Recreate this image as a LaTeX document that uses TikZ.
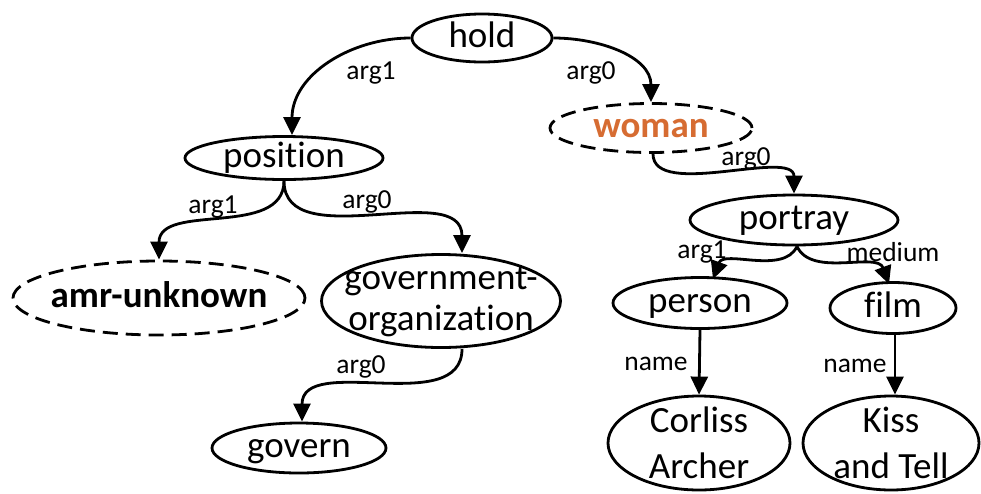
\documentclass[tikz,border=0pt]{standalone}
\usepackage{fontspec}
\setmainfont{Carlito}[RawFeature={-liga;-clig;-dlig}]
\usetikzlibrary{arrows.meta,shapes.geometric}
\definecolor{conceptorange}{RGB}{214,108,50}
\begin{document}
\begin{tikzpicture}[x=1pt,y=-1pt,
  % ellipses take their size from minimum width/height only
  concept/.style={ellipse, draw, line width=2.8pt, inner sep=-60pt,
    font=\fontsize{37}{40}\selectfont, text height=25pt, text depth=7pt},
  twoline/.style={ellipse, draw, line width=2.8pt, inner sep=-60pt, align=center},
  unknown/.style={dash pattern=on 15pt off 8pt},
  rel/.style={line width=2.8pt, -{Triangle[length=18pt,width=17pt]}},
  lab/.style={anchor=base, font=\fontsize{27.5}{30}\selectfont, inner sep=0pt}]
\useasboundingbox (0,0) rectangle (981,493);

% concept nodes
\node[concept, minimum width=140pt, minimum height=48pt] (hold) at (482,38) {hold};
\node[concept, unknown, minimum width=202pt, minimum height=49pt,
      text=conceptorange, font=\fontsize{37}{40}\selectfont\bfseries] (woman) at (651,128) {woman};
\node[concept, minimum width=198pt, minimum height=43pt] (pos) at (284,158) {position};
\node[concept, unknown, minimum width=292pt, minimum height=74pt,
      font=\fontsize{37}{40}\selectfont\bfseries] (amr) at (159,298) {amr-unknown};
\node[twoline, minimum width=239pt, minimum height=93pt,
      font=\fontsize{37}{41}\selectfont] (gov) at (441,301) {government-\\organization};
\node[concept, minimum width=174pt, minimum height=50pt] (govern) at (299,448) {govern};
\node[concept, minimum width=208pt, minimum height=50pt] (portray) at (794,220) {portray};
\node[concept, minimum width=174pt, minimum height=51pt] (person) at (700,303) {person};
\node[concept, minimum width=126pt, minimum height=51pt] (film) at (893,308) {film};
\node[twoline, minimum width=182pt, minimum height=94pt,
      font=\fontsize{37}{46}\selectfont] (corliss) at (699,443) {Corliss\\Archer};
\node[twoline, minimum width=176pt, minimum height=94pt,
      font=\fontsize{37}{46}\selectfont] (kiss) at (891,443) {Kiss\\and Tell};

% relations
\draw[rel] (hold.west) to[out=180, in=90] ([xshift=8pt]pos.north);
\draw[rel] (hold.east) to[out=0, in=90] (woman.north);
\draw[rel] ([xshift=2pt]woman.south) to[out=-90, in=90, looseness=0.8] (portray.north);
\draw[rel] (pos.south) to[out=-90, in=90] (amr.north);
\draw[rel] (pos.south) to[out=-90, in=90] ([xshift=21pt]gov.north);
\draw[rel] ([xshift=21pt]gov.south) to[out=-90, in=90] ([xshift=3pt]govern.north);
\draw[rel] ([xshift=3pt]portray.south) to[out=-115, in=70, looseness=0.9] ([xshift=13pt,yshift=-3pt]person.north);
\draw[rel] ([xshift=3pt]portray.south) to[out=-65, in=110, looseness=0.9] ([xshift=-4pt,yshift=-3pt]film.north);
\draw[rel] (person.south) -- (corliss.north);
\draw[rel] ([xshift=2pt]film.south) -- ([xshift=4pt]kiss.north);

% relation labels
\node[lab] (l1) at (371,79) {arg1};
\node[lab] (l2) at (591,79) {arg0};
\node[lab] (l3) at (746,165) {arg0};
\node[lab] (l4) at (213,213) {arg1};
\node[lab] (l5) at (367,208) {arg0};
\node[lab] (l6) at (361,373) {arg0};
\node[lab] (l7) at (702,258) {arg1};
\node[lab] (l8) at (893,261) {medium};
\node[lab] (l9) at (656,370) {name};
\node[lab] (l10) at (855,372) {name};
\end{tikzpicture}
\end{document}
